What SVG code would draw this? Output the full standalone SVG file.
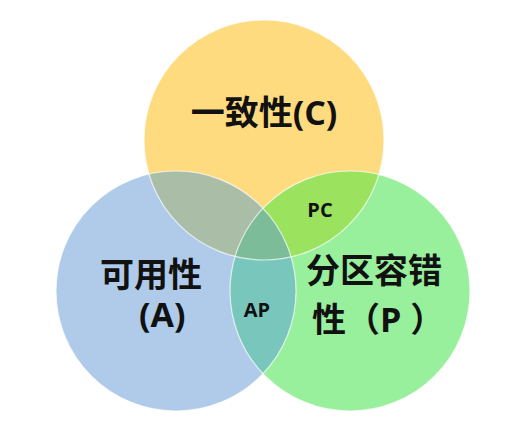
<svg xmlns="http://www.w3.org/2000/svg" width="527" height="424" viewBox="0 0 527 424">
<style>
.t{font-family:"Open Sans","Noto Sans CJK SC",sans-serif;font-weight:bold;fill:#111;}
.big{font-size:34px;}
.sm{font-size:20px;text-anchor:middle;}
.edge{fill:none;stroke:#fff;stroke-width:1.2;stroke-opacity:0.7;}
</style>
<defs>
<clipPath id="cy"><circle cx="264" cy="140" r="120"/></clipPath>
<clipPath id="cb"><circle cx="176" cy="291" r="120"/></clipPath>
<clipPath id="cg"><circle cx="350" cy="291" r="120"/></clipPath>
</defs>
<rect width="527" height="424" fill="#fff"/>
<g id="node-C">
<circle cx="264" cy="140" r="120" fill="#FFDB80"/>
</g>
<g id="node-A">
<circle cx="176" cy="291" r="120" fill="#AFCBE9"/>
</g>
<g id="node-P">
<circle cx="350" cy="291" r="120" fill="#98EF9C"/>
</g>
<g id="overlaps">
<circle cx="176" cy="291" r="120" fill="#AABEA7" clip-path="url(#cy)"/>
<circle cx="350" cy="291" r="120" fill="#9BE35F" clip-path="url(#cy)"/>
<circle cx="350" cy="291" r="120" fill="#78C6BC" clip-path="url(#cb)"/>
<g clip-path="url(#cy)"><circle cx="350" cy="291" r="120" fill="#7CBC99" clip-path="url(#cb)"/></g>
</g>
<g id="edges">
<circle class="edge" cx="264" cy="140" r="120"/>
<circle class="edge" cx="176" cy="291" r="120"/>
<circle class="edge" cx="350" cy="291" r="120"/>
</g>
<g id="labels">
<text class="t big" x="264" y="125" text-anchor="middle">一致性(C)</text>
<text class="t big" x="100" y="287">可用性</text>
<text class="t big" x="139" y="327">(A)</text>
<text class="t big" x="306" y="283">分区容错</text>
<text class="t big" x="312" y="332">性（P ）</text>
<text class="t sm" x="320" y="217">PC</text>
<text class="t sm" x="257" y="317">AP</text>
</g>
</svg>
